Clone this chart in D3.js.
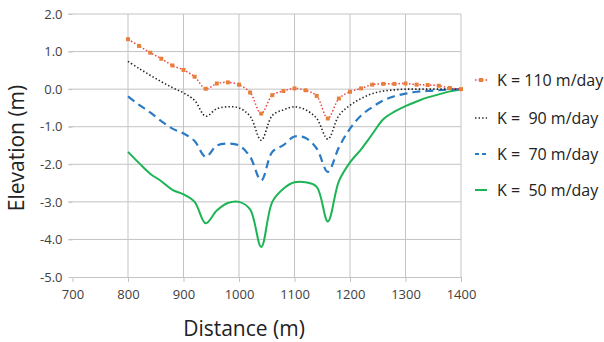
<!DOCTYPE html>
<html>
<head>
<meta charset="utf-8">
<script src="https://cdn.jsdelivr.net/npm/d3@7"></script>
<style>
  body { margin: 0; background: #fff; }
  text { font-family: "Open Sans", "Liberation Sans", sans-serif; }
</style>
</head>
<body>
<div id="chart"></div>
<script>
// distances (m), one point every 20 m
const distance = d3.range(800, 1401, 20);

const k110 = [1.33, 1.15, 0.97, 0.81, 0.63, 0.51, 0.33, 0.01, 0.15, 0.18, 0.12, -0.09, -0.65, -0.16, -0.05, 0.02,
  -0.03, -0.18, -0.78, -0.25, -0.07, 0.02, 0.12, 0.14, 0.14, 0.15, 0.12, 0.11, 0.09, 0.03, 0.0];
const k90 = [0.74, 0.55, 0.37, 0.2, 0.04, -0.1, -0.3, -0.72, -0.52, -0.47, -0.5, -0.72, -1.36, -0.7, -0.55, -0.47,
  -0.55, -0.78, -1.33, -0.7, -0.43, -0.25, -0.12, -0.05, -0.02, 0.0, 0.0, 0.0, 0.0, 0.0, 0.0];
const k70 = [-0.19, -0.42, -0.62, -0.85, -1.05, -1.18, -1.38, -1.8, -1.5, -1.45, -1.5, -1.8, -2.43, -1.67, -1.49, -1.26,
  -1.3, -1.58, -2.2, -1.55, -1.05, -0.7, -0.48, -0.3, -0.19, -0.12, -0.07, -0.05, -0.03, -0.01, 0.0];
const k50 = [-1.67, -1.97, -2.25, -2.45, -2.68, -2.8, -3.0, -3.57, -3.23, -3.03, -3.0, -3.2, -4.2, -3.0, -2.65, -2.48,
  -2.48, -2.6, -3.52, -2.45, -1.95, -1.6, -1.2, -0.8, -0.6, -0.45, -0.33, -0.22, -0.14, -0.06, 0.0];

const seriesNames = ['K = 110 m/day', 'K =  90 m/day', 'K =  70 m/day', 'K =  50 m/day'];
const xTicks = [700, 800, 900, 1000, 1100, 1200, 1300, 1400];
const yTicks = [2, 1, 0, -1, -2, -3, -4, -5];

const width = 604, height = 342;
const margin = { top: 14, right: 143, bottom: 65, left: 72.5 };
const innerW = width - margin.left - margin.right;
const innerH = height - margin.top - margin.bottom;

const svg = d3.select('#chart').append('svg')
  .attr('width', width)
  .attr('height', height);

const chart = svg.append('g')
  .attr('transform', `translate(${margin.left}, ${margin.top})`);

const x = d3.scaleLinear().domain([700, 1400]).range([0, innerW]);
const y = d3.scaleLinear().domain([-5, 2]).range([innerH, 0]);

// gridlines
chart.append('g')
  .selectAll('line.h')
  .data(yTicks.filter(d => d !== -5))
  .enter().append('line')
  .attr('x1', -4).attr('x2', innerW)
  .attr('y1', d => y(d)).attr('y2', d => y(d))
  .attr('stroke', '#c3c3c3').attr('stroke-width', 1);
chart.append('g')
  .selectAll('line.v')
  .data(xTicks.filter(d => d !== 700))
  .enter().append('line')
  .attr('x1', d => x(d)).attr('x2', d => x(d))
  .attr('y1', 0).attr('y2', innerH)
  .attr('stroke', '#c3c3c3').attr('stroke-width', 1);

// axes
const xAxis = chart.append('g')
  .attr('transform', `translate(0, ${innerH})`)
  .call(d3.axisBottom(x).tickValues(xTicks).tickFormat(d3.format('d')).tickSize(5).tickSizeOuter(0).tickPadding(8));
const yAxis = chart.append('g')
  .call(d3.axisLeft(y).tickValues(yTicks).tickFormat(d3.format('.1f')).tickSize(4).tickSizeOuter(0).tickPadding(6));
yAxis.select('.domain').remove();
[xAxis, yAxis].forEach(a => {
  a.selectAll('.domain, .tick line').attr('stroke', '#c3c3c3');
  a.selectAll('text').attr('fill', '#404040').style('font-size', '13px')
    .style('font-family', '"Open Sans", "Liberation Sans", sans-serif');
});
yAxis.selectAll('text').text(d => d3.format('.1f')(d).replace('−', '-'));

// lines
const series = [
  { name: seriesNames[0], values: k110, color: '#ee4040', width: 1.5, dash: '1.5,2', marker: '#e8803c' },
  { name: seriesNames[1], values: k90, color: '#222', width: 1.6, dash: '1.4,2.2' },
  { name: seriesNames[2], values: k70, color: '#2a7ac4', width: 2.2, dash: '8,5' },
  { name: seriesNames[3], values: k50, color: '#1cb454', width: 2, dash: null }
];

const line = d3.line()
  .x((d, i) => x(distance[i]))
  .y(d => y(d))
  .curve(d3.curveCatmullRom.alpha(0.5));

series.slice().reverse().forEach(s => {
  chart.append('path')
    .datum(s.values)
    .attr('fill', 'none')
    .attr('stroke', s.color)
    .attr('stroke-width', s.width)
    .attr('stroke-dasharray', s.dash)
    .attr('d', line);
  if (s.marker) {
    chart.selectAll(null)
      .data(s.values)
      .enter().append('rect')
      .attr('x', (d, i) => x(distance[i]) - 2)
      .attr('y', d => y(d) - 2)
      .attr('width', 4).attr('height', 4)
      .attr('fill', s.marker);
  }
});

// axis titles
svg.append('text')
  .attr('transform', 'translate(24, 148) rotate(-90)')
  .attr('text-anchor', 'middle')
  .style('font-size', '21px')
  .attr('fill', '#222')
  .text('Elevation (m)');
svg.append('text')
  .attr('x', 244).attr('y', 336)
  .attr('text-anchor', 'middle')
  .style('font-size', '21px')
  .attr('fill', '#222')
  .text('Distance (m)');

// legend
const legendY = [80, 118, 154, 190];
const legend = svg.append('g');
series.forEach((s, i) => {
  const g = legend.append('g').attr('transform', `translate(475, ${legendY[i]})`);
  g.append('line')
    .attr('x1', 0).attr('x2', 12)
    .attr('stroke', s.color)
    .attr('stroke-width', s.width)
    .attr('stroke-dasharray', s.dash ? (s.dash === '8,5' ? '4,3' : s.dash) : null);
  if (s.marker) {
    g.append('rect').attr('x', 4).attr('y', -2).attr('width', 4).attr('height', 4).attr('fill', s.marker);
  }
  g.append('text')
    .attr('x', 22).attr('y', 5.5)
    .style('font-size', '16px')
    .style('white-space', 'pre')
    .attr('fill', '#222')
    .text(s.name);
});
</script>
</body>
</html>
